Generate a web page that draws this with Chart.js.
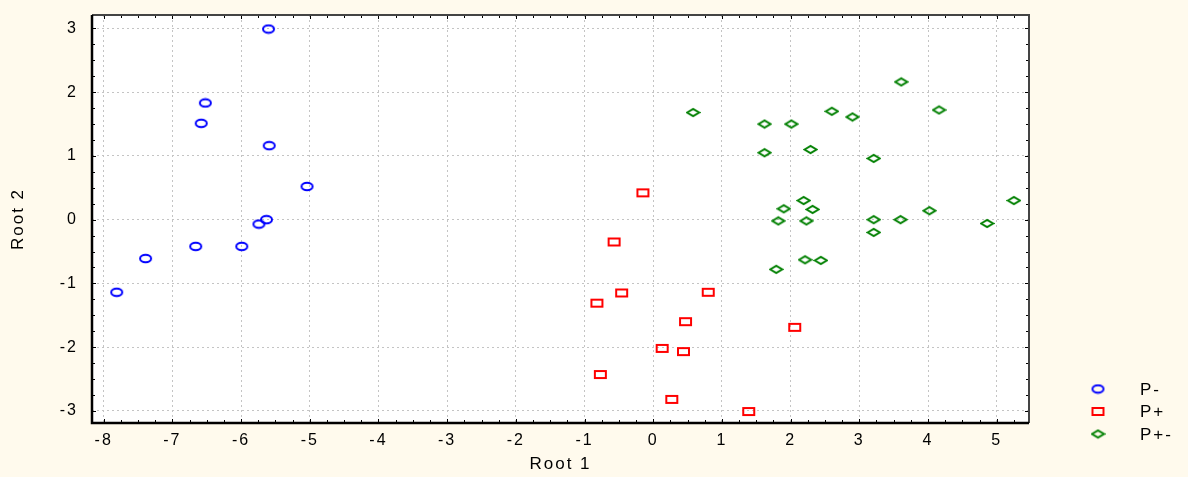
<!DOCTYPE html>
<html>
<head>
<meta charset="utf-8">
<script src="https://cdn.jsdelivr.net/npm/chart.js@4/dist/chart.umd.min.js"></script>
<style>
  html, body { margin: 0; padding: 0; background: #fffaed; }
  #wrap { width: 1188px; height: 477px; }
</style>
</head>
<body>
<div id="wrap"><canvas id="myChart" width="1188" height="477"></canvas></div>
<script>
// P- group (blue circles)
const pMinusX = [-5.60, -6.52, -6.58, -5.59, -5.04, -5.63, -5.74, -6.66, -5.99, -7.39, -7.81];
const pMinusY = [2.99, 1.83, 1.51, 1.16, 0.52, 0.00, -0.07, -0.42, -0.42, -0.61, -1.14];

// P+ group (red squares)
const pPlusX = [-0.15, -0.57, -0.46, -0.82, 0.80, 0.47, 2.06, 0.13, 0.44, -0.77, 0.27, 1.39];
const pPlusY = [0.42, -0.35, -1.15, -1.31, -1.14, -1.60, -1.69, -2.02, -2.07, -2.43, -2.82, -3.01];

// P+- group (green diamonds)
const pBothX = [0.58, 1.62, 2.01, 1.62, 1.90, 1.82, 2.19, 3.61, 2.60, 2.90, 4.16, 2.29,
  3.21, 2.32, 2.23, 3.21, 3.60, 4.02, 4.86, 5.25, 3.21, 1.79, 2.21, 2.44];
const pBothY = [1.68, 1.50, 1.50, 1.05, 0.17, -0.02, 0.30, 2.16, 1.70, 1.61, 1.72, 1.10,
  0.96, 0.16, -0.02, 0.00, 0.00, 0.14, -0.06, 0.30, -0.20, -0.78, -0.63, -0.64];

const groupLabels = ["P-", "P+", "P+-"];
const xTitle = "Root 1";
const yTitle = "Root 2";

const toPoints = (xs, ys) => xs.map((x, i) => ({ x: x, y: ys[i] }));

// little marker images (the original is stretched sideways)
function makeMarker(kind, color) {
  const c = document.createElement("canvas");
  c.width = 15;
  c.height = 11;
  const g = c.getContext("2d");
  g.strokeStyle = color;
  g.lineWidth = 2;
  g.beginPath();
  if (kind === "circle") {
    g.ellipse(7.5, 5.5, 5.5, 3.8, 0, 0, Math.PI * 2);
  } else if (kind === "square") {
    g.rect(2, 2, 11, 7);
  } else {
    g.moveTo(1.5, 5.5);
    g.lineTo(7.5, 2);
    g.lineTo(13.5, 5.5);
    g.lineTo(7.5, 9);
    g.closePath();
  }
  g.stroke();
  return c;
}

const markers = [
  makeMarker("circle", "#0000ff"),
  makeMarker("square", "#ff0000"),
  makeMarker("diamond", "#008000"),
];

const textFont = "'Liberation Sans', Arial, sans-serif";

// frame + inward minor ticks like the original
const framePlugin = {
  id: "frame",
  afterDatasetsDraw(chart) {
    const { ctx, chartArea: a, scales } = chart;
    ctx.save();
    ctx.strokeStyle = "#000";
    ctx.lineWidth = 1;
    ctx.beginPath();
    for (let v = -8; v <= 5.5; v += 0.25) {
      const px = Math.round(scales.x.getPixelForValue(v)) + 0.5;
      if (px < a.left || px > a.right) continue;
      const len = Number.isInteger(v) ? 4 : 3;
      ctx.moveTo(px, a.bottom); ctx.lineTo(px, a.bottom - len);
      ctx.moveTo(px, a.top); ctx.lineTo(px, a.top + len);
    }
    for (let v = -3; v <= 3.25; v += 0.25) {
      const py = Math.round(scales.y.getPixelForValue(v)) + 0.5;
      if (py < a.top || py > a.bottom) continue;
      const len = Number.isInteger(v) ? 4 : 3;
      ctx.moveTo(a.left, py); ctx.lineTo(a.left + len, py);
      ctx.moveTo(a.right, py); ctx.lineTo(a.right - len, py);
    }
    ctx.stroke();
    ctx.lineWidth = 2;
    ctx.strokeStyle = "#444";
    ctx.beginPath();
    ctx.moveTo(a.left, a.top);
    ctx.lineTo(a.right, a.top);
    ctx.lineTo(a.right, a.bottom);
    ctx.stroke();
    ctx.strokeStyle = "#000";
    ctx.lineWidth = 2.5;
    ctx.beginPath();
    ctx.moveTo(a.left, a.top);
    ctx.lineTo(a.left, a.bottom);
    ctx.lineTo(a.right, a.bottom);
    ctx.stroke();
    ctx.restore();
  },
};

// legend in the lower right corner
const legendPlugin = {
  id: "sideLegend",
  afterDraw(chart) {
    const ctx = chart.ctx;
    ctx.save();
    ctx.font = "17px " + textFont;
    ctx.fillStyle = "#000";
    ctx.textBaseline = "middle";
    chart.data.datasets.forEach((ds, i) => {
      const y = 389 + i * 22.5;
      const img = ds.pointStyle;
      ctx.drawImage(img, 1098 - img.width / 2, y - img.height / 2);
      ctx.fillText(ds.label, 1140, y + 1);
    });
    ctx.restore();
  },
};

const bgPlugin = {
  id: "bg",
  beforeDraw(chart) {
    const { ctx, chartArea: a } = chart;
    // the original text is drawn wide, so space the letters a bit
    ctx.letterSpacing = "2px";
    ctx.save();
    ctx.fillStyle = "#fffaed";
    ctx.fillRect(0, 0, chart.width, chart.height);
    ctx.fillStyle = "#ffffff";
    ctx.fillRect(a.left, a.top, a.right - a.left, a.bottom - a.top);
    ctx.restore();
  },
};

const data = {
  datasets: [
    { label: groupLabels[0], data: toPoints(pMinusX, pMinusY), pointStyle: markers[0] },
    { label: groupLabels[1], data: toPoints(pPlusX, pPlusY), pointStyle: markers[1] },
    { label: groupLabels[2], data: toPoints(pBothX, pBothY), pointStyle: markers[2] },
  ],
};

const gridStyle = {
  color: "#c4c4c4",
  lineWidth: 1,
  drawTicks: false,
};

const config = {
  type: "scatter",
  data,
  options: {
    responsive: false,
    animation: false,
    layout: { padding: { top: 15, right: 159, left: 0, bottom: 0 } },
    plugins: { legend: { display: false }, tooltip: { enabled: false } },
    scales: {
      x: {
        type: "linear",
        min: -8.17,
        max: 5.47,
        afterFit: (scale) => {
          scale.height = 54;
          scale.paddingLeft = 0;
          scale.paddingRight = 0;
        },
        grid: gridStyle,
        border: { display: false, dash: [2, 3] },
        ticks: {
          stepSize: 1,
          includeBounds: false,
          padding: 8,
          color: "#000",
          font: { size: 16, family: textFont },
          maxRotation: 0,
        },
        title: {
          display: true,
          text: xTitle,
          color: "#000",
          font: { size: 17, family: textFont },
          padding: 2,
        },
      },
      y: {
        type: "linear",
        min: -3.19,
        max: 3.21,
        afterFit: (scale) => {
          scale.width = 92;
          scale.paddingTop = 0;
          scale.paddingBottom = 0;
        },
        grid: gridStyle,
        border: { display: false, dash: [2, 3] },
        ticks: {
          stepSize: 1,
          includeBounds: false,
          padding: 14,
          color: "#000",
          font: { size: 16, family: textFont },
        },
        title: {
          display: true,
          text: yTitle,
          color: "#000",
          font: { size: 17, family: textFont },
          padding: 8,
        },
      },
    },
  },
  plugins: [bgPlugin, framePlugin, legendPlugin],
};

const ctx = document.querySelector("#myChart");
let myChart = new Chart(ctx, config);
</script>
</body>
</html>
